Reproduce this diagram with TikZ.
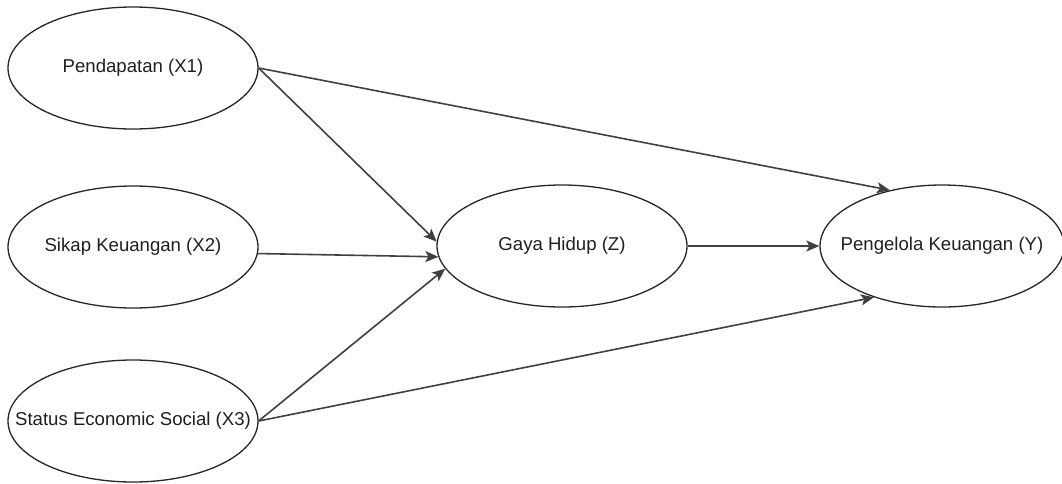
\documentclass[tikz,border=0pt]{standalone}
\usepackage{fontspec}
\setmainfont{Liberation Sans}
\usetikzlibrary{shapes.geometric,arrows.meta}

\newcommand{\varlabel}[1]{\makebox[0pt]{#1}}

\begin{document}
\begin{tikzpicture}[x=1pt,y=1pt,
    var/.style={draw=black!85,ellipse,line width=1.3pt,inner sep=0pt,
        minimum width=250pt,minimum height=122pt,text=black!88,
        font=\fontsize{18.6}{22}\selectfont},
    path/.style={draw=black!75,line width=1.6pt,
        -{Stealth[length=13pt,width=11pt,inset=3pt]}}]
    \useasboundingbox (0,0) rectangle (1062,-483);
    \node[var] (x1) at (133,-68) {\varlabel{Pendapatan (X1)}};
    \node[var] (x2) at (133,-247) {\varlabel{Sikap Keuangan (X2)}};
    \node[var] (x3) at (133,-421) {\varlabel{Status Economic Social (X3)}};
    \node[var] (z) at (562,-246) {\varlabel{Gaya Hidup (Z)}};
    \node[var,minimum width=244pt] (y) at (942,-246) {\varlabel{Pengelola Keuangan (Y)}};
    \draw[path] (x1.east) -- (y.133);
    \draw[path] (x1.east) -- (z.178);
    \draw[path] (x2.-3) -- (z.185);
    \draw[path] (x3.east) -- (z.191);
    \draw[path] (x3.east) -- (y.217);
    \draw[path] (z.east) -- (y.west);
\end{tikzpicture}
\end{document}
